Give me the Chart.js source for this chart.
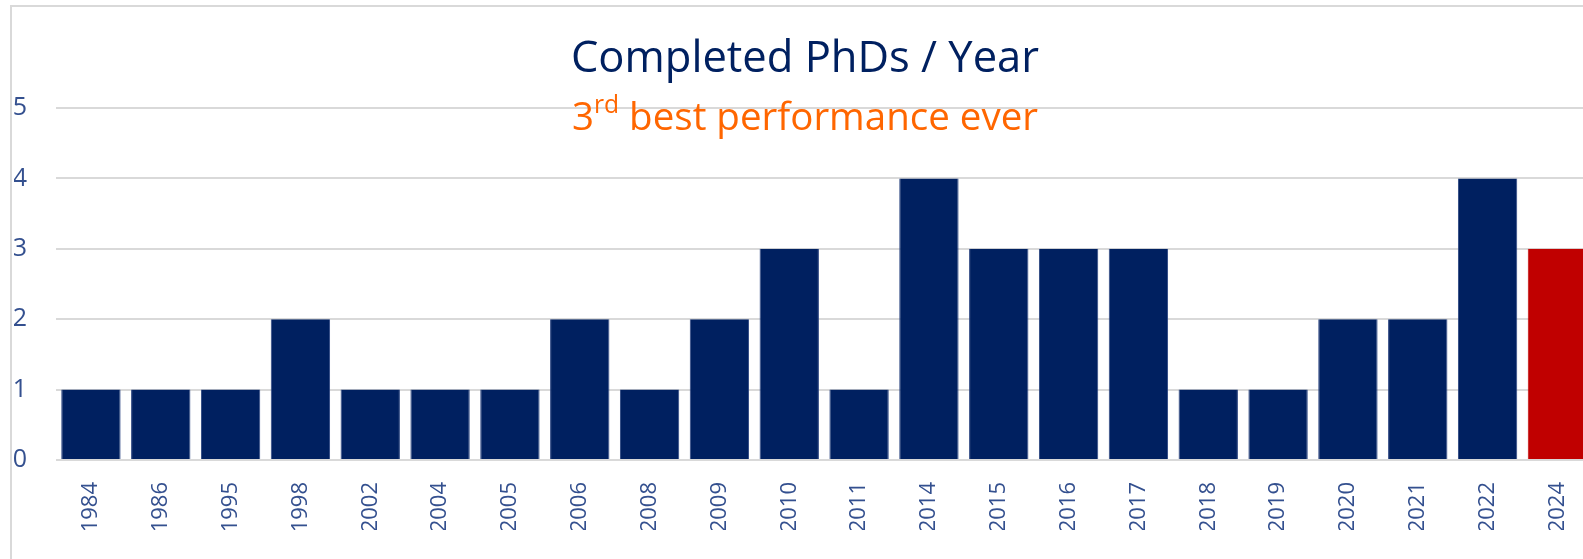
<!DOCTYPE html>
<html>
<head>
<meta charset="utf-8">
<script src="https://cdn.jsdelivr.net/npm/chart.js@4.4.1/dist/chart.umd.min.js"></script>
<style>
  html, body { margin: 0; padding: 0; background: #fff; overflow: hidden; }
  body { width: 1583px; height: 559px; position: relative; }
  #frame { position: absolute; left: 10px; top: 5px; width: 1600px; height: 600px;
           border-left: 2px solid #d9d9d9; border-top: 2px solid #d9d9d9; }
  #wrap { position: absolute; left: 0; top: 0; width: 1606px; height: 559px; }
  .ttl { position: absolute; left: 0; width: 1610px; text-align: center;
         font-family: "Open Sans", sans-serif; white-space: nowrap; }
  #title { top: 26px; font-size: 43.5px; color: #002060; }
  #sub { top: 89px; font-size: 38.5px; color: #ff6600; }
  #sub sup { font-size: 0.64em; vertical-align: 0; position: relative; top: -0.68em; }
</style>
</head>
<body>
<div id="frame"></div>
<div id="wrap"><canvas id="phd"></canvas></div>
<div class="ttl" id="title">Completed PhDs / Year</div>
<div class="ttl" id="sub">3<sup>rd</sup> best performance ever</div>
<script>
// completed PhDs per year
const years  = ['1984','1986','1995','1998','2002','2004','2005','2006','2008','2009','2010',
                '2011','2014','2015','2016','2017','2018','2019','2020','2021','2022','2024'];
const counts = [1,1,1,2,1,1,1,2,1,2,3,1,4,3,3,3,1,1,2,2,4,3];
const yTicks = [0,1,2,3,4,5];

const NAVY = '#002060', RED = '#c00000', LABEL = '#34508f';
const barColors = years.map((y, i) => i === years.length - 1 ? RED : NAVY);

new Chart(document.getElementById('phd').getContext('2d'), {
  type: 'bar',
  data: {
    labels: years,
    datasets: [{
      data: counts,
      backgroundColor: barColors,
      borderColor: barColors.map(c => c === NAVY ? '#2a4480' : RED),
      borderWidth: { left: 1, right: 1, top: 0, bottom: 0 },
      categoryPercentage: 1, barPercentage: 0.85,
    }],
  },
  options: {
    responsive: true, maintainAspectRatio: false, animation: false,
    layout: { padding: { left: 14, right: 8, top: 108, bottom: 29 } },
    plugins: { legend: { display: false }, tooltip: { enabled: false } },
    scales: {
      x: {
        afterFit: ax => { ax.height = 70; },
        grid: { display: false, drawTicks: false },
        border: { display: false },
        ticks: {
          color: LABEL, autoSkip: false, maxRotation: 90, minRotation: 90, padding: 22,
          font: { family: 'Open Sans', size: 22, weight: 400 },
        },
      },
      y: {
        min: 0, max: 5,
        afterFit: ax => { ax.width = 42; },
        afterBuildTicks: ax => { ax.ticks = yTicks.map(v => ({ value: v })); },
        grid: { color: '#d9d9d9', lineWidth: 2, drawTicks: false },
        border: { display: false },
        ticks: {
          color: LABEL, padding: 29,
          font: { family: 'Open Sans', size: 25, weight: 400 },
        },
      },
    },
  },
});
</script>
</body>
</html>
